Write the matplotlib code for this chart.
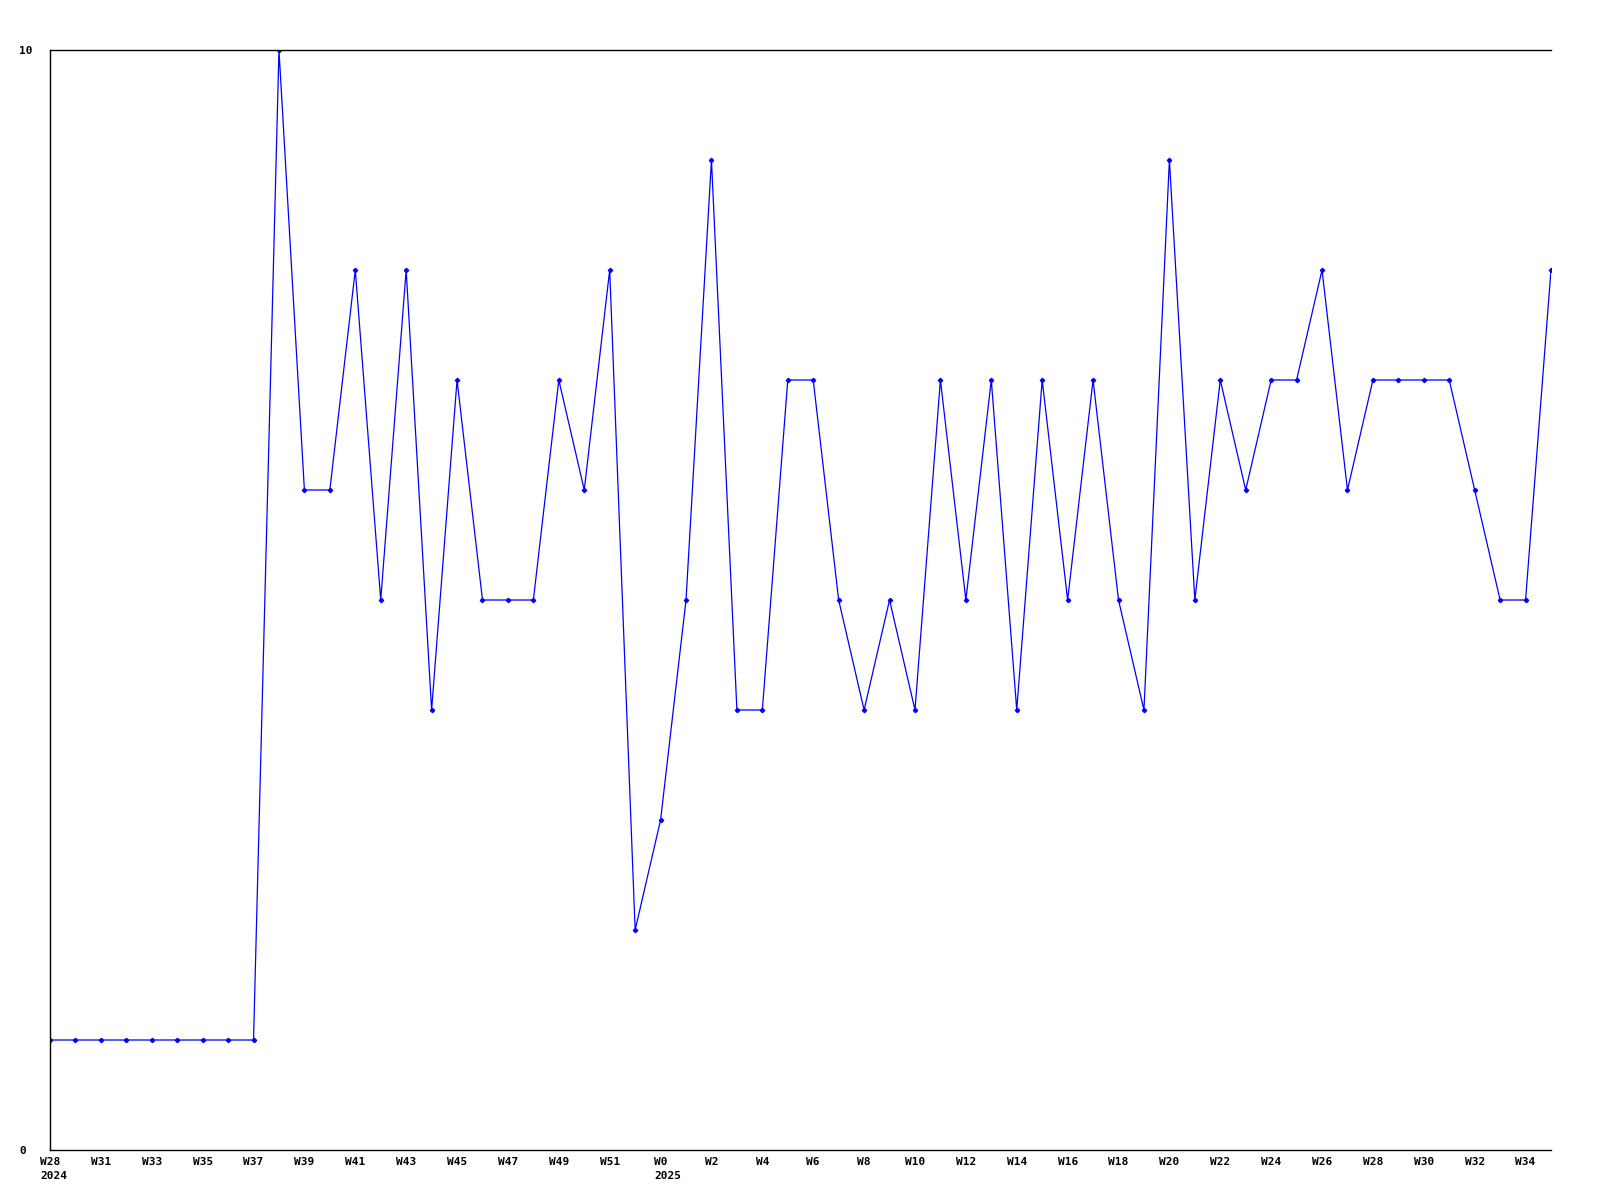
import matplotlib
matplotlib.use("Agg")
import matplotlib.pyplot as plt

# weekly values, W28 2024 .. W35 2025
weeks = ["W28", "W30", "W31", "W32", "W33", "W34", "W35", "W36", "W37", "W38",
         "W39", "W40", "W41", "W42", "W43", "W44", "W45", "W46", "W47", "W48",
         "W49", "W50", "W51", "W52", "W0", "W1", "W2", "W3", "W4", "W5",
         "W6", "W7", "W8", "W9", "W10", "W11", "W12", "W13", "W14", "W15",
         "W16", "W17", "W18", "W19", "W20", "W21", "W22", "W23", "W24", "W25",
         "W26", "W27", "W28", "W29", "W30", "W31", "W32", "W33", "W34", "W35"]
years = {0: "2024", 24: "2025"}
values = [1, 1, 1, 1, 1, 1, 1, 1, 1, 10,
          6, 6, 8, 5, 8, 4, 7, 5, 5, 5,
          7, 6, 8, 2, 3, 5, 9, 4, 4, 7,
          7, 5, 4, 5, 4, 7, 5, 7, 4, 7,
          5, 7, 5, 4, 9, 5, 7, 6, 7, 7,
          8, 6, 7, 7, 7, 7, 6, 5, 5, 8]

FONT = dict(fontfamily="DejaVu Sans Mono", fontweight="bold", fontsize=8)
char_w = 0.602 * 8  # width of one mono char in points

fig = plt.figure(figsize=(16, 12), dpi=100)
ax = fig.add_axes([50 / 1600, 50 / 1200, 1501 / 1600, 1100 / 1200])

x = list(range(len(values)))
ax.plot(x, values, color="#0000ff", linewidth=0.9, marker="D", markersize=2.2)

ax.set_xlim(0, len(values) - 1)
ax.set_ylim(0, 10)

# tick labels every 2 points
ticks = x[::2]
ax.set_xticks(ticks)
ax.set_xticklabels([weeks[i] for i in ticks], ha="center", **FONT)
ax.set_yticks([0, 10])
ax.set_yticklabels(["0", "10"], ha="left", **FONT)
ax.tick_params(axis="x", length=0, pad=5)
ax.tick_params(axis="y", length=0, pad=22)

# year under the week label, starting at the label's left edge
for i, yr in years.items():
    dx = -len(weeks[i]) / 2 * char_w
    ax.annotate(yr, xy=(i, 0), xycoords="data", xytext=(dx, -15),
                textcoords="offset points", ha="left", va="top",
                annotation_clip=False, **FONT)

ax.spines["right"].set_visible(False)
for s in ["left", "bottom", "top"]:
    ax.spines[s].set_linewidth(1)
    ax.spines[s].set_color("black")

fig.savefig("out.png", dpi=100, facecolor="white")
